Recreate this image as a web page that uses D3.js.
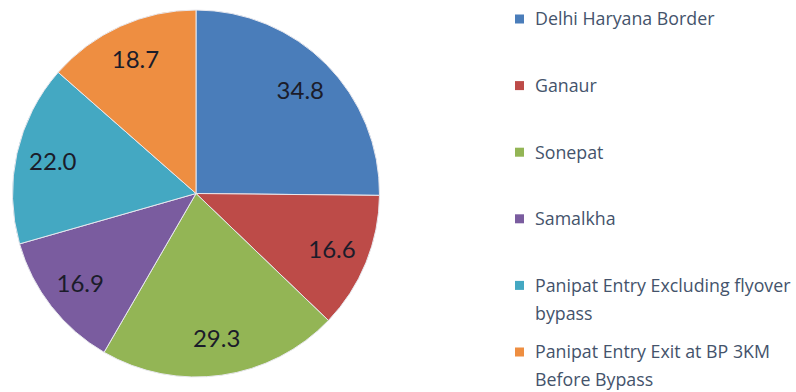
<!DOCTYPE html>
<html>
<head>
<meta charset="utf-8">
<script src="https://cdn.jsdelivr.net/npm/d3@7"></script>
<style>
  html, body { margin: 0; padding: 0; background: #ffffff; }
  svg { display: block; }
</style>
</head>
<body>
<svg id="chart" width="796" height="392"></svg>
<script>
// Share of traffic by location
const locations = [
  "Delhi Haryana Border",
  "Ganaur",
  "Sonepat",
  "Samalkha",
  "Panipat Entry Excluding flyover bypass",
  "Panipat Entry Exit at BP 3KM Before Bypass"
];
const values = [34.8, 16.6, 29.3, 16.9, 22.0, 18.7];
const sliceColors = ["#4a7dba", "#bd4b48", "#93b555", "#7a5c9f", "#44a8c2", "#ee8e41"];
// legend text split into lines
const legendLines = [
  ["Delhi Haryana Border"],
  ["Ganaur"],
  ["Sonepat"],
  ["Samalkha"],
  ["Panipat Entry Excluding flyover", "bypass"],
  ["Panipat Entry Exit at BP 3KM", "Before Bypass"]
];

const svg = d3.select("#chart");
const cx = 196, cy = 193.5, R = 183.5;

const data = locations.map((name, i) => ({ name, value: values[i], color: sliceColors[i] }));

const pie = d3.pie().value(d => d.value).sort(null);
const arc = d3.arc().innerRadius(0).outerRadius(R);
const labelArc = d3.arc().innerRadius(R * 0.8).outerRadius(R * 0.8);

const g = svg.append("g").attr("transform", `translate(${cx},${cy})`);
const arcs = pie(data);

g.selectAll("path.slice")
  .data(arcs)
  .join("path")
  .attr("class", "slice")
  .attr("d", arc)
  .attr("fill", d => d.data.color)
  .attr("stroke", "#e8e8ee")
  .attr("stroke-width", 1);

g.selectAll("text.val")
  .data(arcs)
  .join("text")
  .attr("class", "val")
  .attr("transform", d => `translate(${labelArc.centroid(d)})`)
  .attr("text-anchor", "middle")
  .attr("dy", "0.36em")
  .attr("font-family", "Lato, 'Open Sans', sans-serif")
  .attr("font-size", 24)
  .attr("fill", "#1b1c2a")
  .text(d => d3.format(".1f")(d.data.value));

// legend
const legendY = d3.scalePoint().domain(d3.range(data.length)).range([19, 352]);
const lineGap = 28;
const lg = svg.append("g");
const items = lg.selectAll("g.item")
  .data(data)
  .join("g")
  .attr("class", "item")
  .attr("transform", (d, i) => `translate(0,${legendY(i)})`);

items.append("rect")
  .attr("x", 515).attr("y", -4.5)
  .attr("width", 9).attr("height", 9)
  .attr("fill", d => d.color);

items.each(function(d, i) {
  const t = d3.select(this).append("text")
    .attr("x", 535)
    .attr("font-family", "'Open Sans', sans-serif")
    .attr("font-size", 17.8)
    .attr("fill", "#44536b");
  legendLines[i].forEach((line, k) => {
    t.append("tspan")
      .attr("x", 535)
      .attr("y", k * lineGap)
      .attr("dy", "0.36em")
      .text(line);
  });
});
</script>
</body>
</html>
